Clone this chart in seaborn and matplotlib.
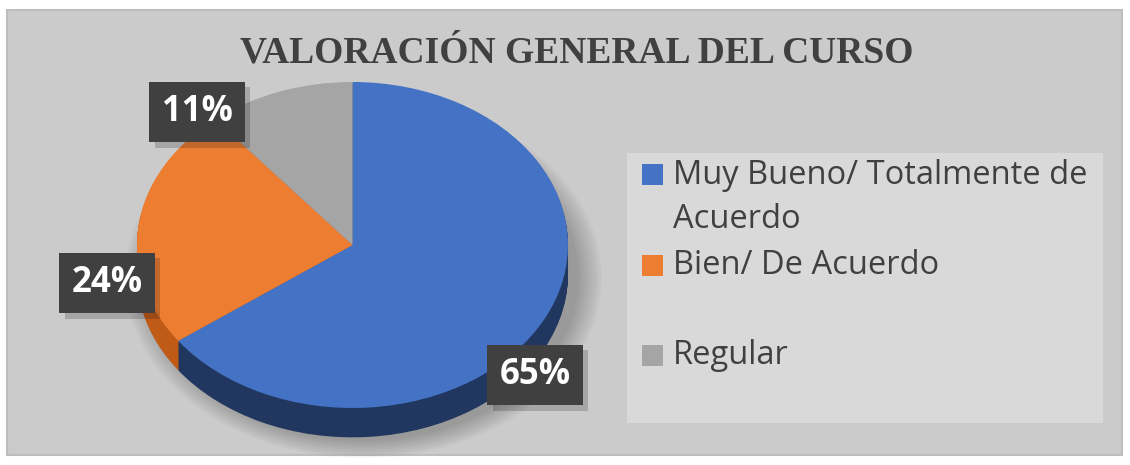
import numpy as np
import matplotlib
matplotlib.use("Agg")
import matplotlib.pyplot as plt
from matplotlib.patches import Rectangle, Ellipse
import matplotlib.patheffects as pe
import seaborn as sns

# data
categories = ["Muy Bueno/ Totalmente de\nAcuerdo", "Bien/ De Acuerdo", "Regular"]
values = [65, 24, 11]
pct_labels = ["65%", "24%", "11%"]
title = "VALORACIÓN GENERAL DEL CURSO"

top_colors = ["#4472c4", "#ed7d31", "#a5a5a5"]
side_colors = ["#21375f", "#c05a17", "#7f7f7f"]

sns.set_theme(style="white")
plt.rcParams["font.family"] = ["Open Sans", "DejaVu Sans"]

W, H = 1130, 465
fig = plt.figure(figsize=(W / 100, H / 100), dpi=100, facecolor="white")


def fx(px):
    return px / W


def fy(py):
    return 1 - py / H


# outer gray panel
fig.patches.append(Rectangle((fx(7), fy(455)), fx(1122) - fx(7), fy(10) - fy(455),
                             transform=fig.transFigure, fc="#cbcbcb", ec="#bdbdbd", lw=1.5, zorder=-2))
# legend panel
fig.patches.append(Rectangle((fx(627), fy(423)), fx(1103) - fx(627), fy(153) - fy(423),
                             transform=fig.transFigure, fc="#d9d9d9", ec="none", zorder=-1))

# pie axes: x radius 215px, y radius 163px
ry = 163
ax = fig.add_axes([fx(137), fy(82 + 2.2 * ry), fx(568) - fx(137), 2.2 * ry / H])
ax.set_zorder(2)
ax.patch.set_alpha(0)

# soft shadow
for k in range(8):
    s = 1.0 + 0.015 * k
    ax.add_patch(Ellipse((0.05, -0.2), 2 * s, 2 * s, fc="black", alpha=0.03, ec="none",
                         clip_on=False, zorder=0))

# 3d side: stacked darker pies, then the top face
depth = 0.18
for d in np.linspace(depth, 0.005, 40):
    ax.pie(values, colors=side_colors, center=(0, -d), radius=1, startangle=90,
           counterclock=False, wedgeprops=dict(linewidth=0))
ax.pie(values, colors=top_colors, center=(0, 0), radius=1, startangle=90,
       counterclock=False, wedgeprops=dict(linewidth=0))
ax.set_aspect("auto")
ax.set_xlim(-1, 1)
ax.set_ylim(-1.2, 1.0)
ax.axis("off")

# percentage labels (dark boxes with a small drop shadow)
label_pos = [(535, 375), (107, 283), (197, 112)]
for txt, (px, py) in zip(pct_labels, label_pos):
    t = fig.text(fx(px), fy(py), txt, ha="center", va="center", color="white",
                 fontsize=25, fontweight="bold", zorder=5,
                 bbox=dict(boxstyle="square,pad=0.35", fc="#404040", ec="none"))
    t.get_bbox_patch().set_path_effects([pe.SimplePatchShadow(offset=(4, -4), alpha=0.2),
                                         pe.Normal()])

# title
fig.text(fx(577), fy(53), title, ha="center", va="center", fontsize=27, fontweight="bold",
         color="#404040", family=["Liberation Serif", "DejaVu Serif"])

# legend
entry_y = [175, 265, 355]
for lab, col, py in zip(categories, top_colors, entry_y):
    fig.patches.append(Rectangle((fx(642), fy(py + 10.5)), fx(21), 21 / H,
                                 transform=fig.transFigure, fc=col, ec="none", zorder=2))
    for j, line in enumerate(lab.split("\n")):
        fig.text(fx(673), fy(py + 44 * j), line, ha="left", va="center", fontsize=23.5,
                 color="#404040", zorder=3)

fig.savefig("out.png", dpi=100, facecolor="white")
